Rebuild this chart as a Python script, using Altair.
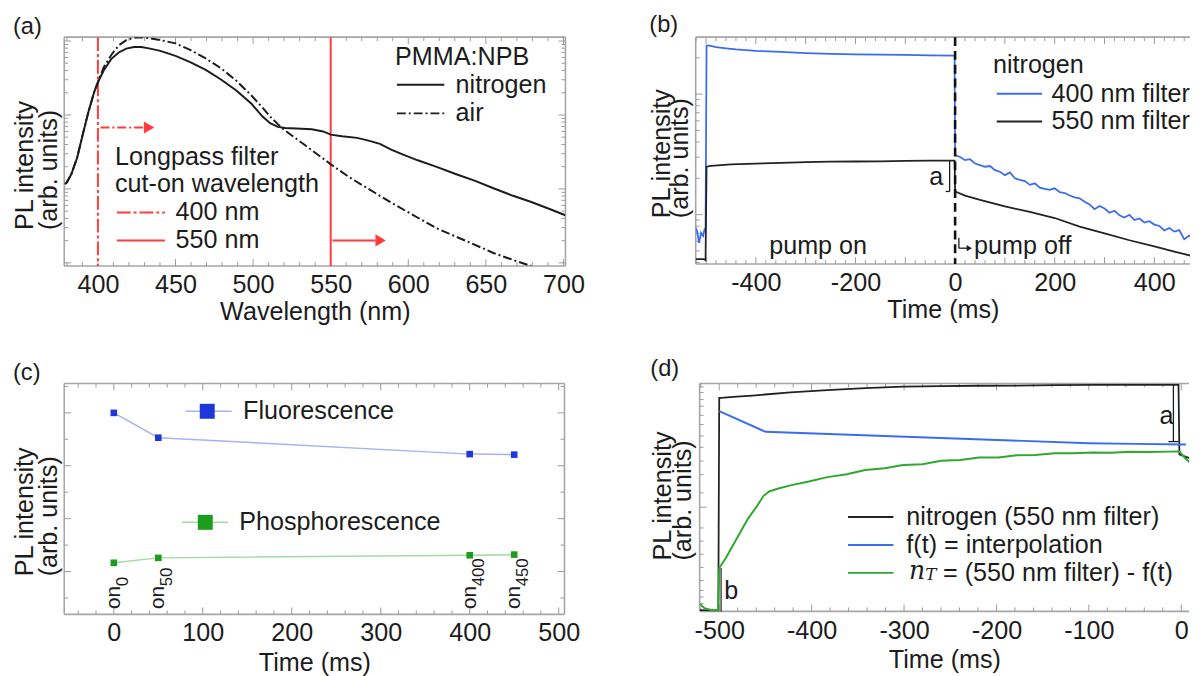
import altair as alt
import pandas as pd

FONT = "Liberation Sans"
INK = "#1c1c1c"
FRAME = "#a6a6a6"
TICKC = "#9a9a9a"
RED = "#ff3b3b"
BLUE = "#3a6cf0"
GREEN = "#2ea82e"
F_DARK, F_LIGHT = "#1f37d8", "#a9b1f3"
P_DARK, P_LIGHT = "#1e9c1e", "#a2daa2"
DASHDOT = [9, 3, 2, 3]
FS = 25.5

# ---------------- (a) PL spectra ----------------
a_wavelength = [378.8, 380.0, 382.9, 386.6, 390.2, 393.9, 397.6, 400.0, 403.7, 408.5, 413.4, 418.3, 423.2,
                428.0, 432.9, 440.2, 450.0, 459.8, 469.5, 479.3, 489.0, 498.8, 506.1, 511.0, 515.9, 520.7,
                528.0, 537.8, 545.1, 550.0, 557.3, 567.1, 574.4, 581.7, 589.0, 596.3, 606.1, 618.3, 630.5,
                642.7, 654.9, 667.1, 679.3, 691.5, 701.2]
a_nitrogen = [35.9, 36.6, 40.2, 47.3, 57.4, 67.4, 76.0, 80.3, 85.4, 90.4, 93.3, 95.0, 95.7, 95.7, 95.1, 94.0,
              91.8, 89.0, 85.7, 81.5, 76.8, 71.0, 65.3, 62.4, 60.8, 60.3, 60.1, 59.8, 58.8, 57.4, 56.7, 56.0,
              54.8, 53.4, 50.9, 48.8, 46.2, 43.3, 40.2, 37.3, 34.0, 30.8, 28.0, 24.8, 22.2]
a_air_wavelength = [378.8, 380.0, 382.9, 386.6, 390.2, 393.9, 397.6, 400.0, 403.7, 408.5, 413.4, 418.3, 423.2,
                    428.0, 432.9, 440.2, 450.0, 459.8, 469.5, 479.3, 489.0, 498.8, 506.1, 511.0, 515.9, 519.5,
                    525.6, 532.9, 550.0, 562.2, 574.4, 586.6, 601.2, 618.3, 637.8, 654.9, 669.5, 679.3]
a_air = [35.9, 36.6, 40.2, 47.3, 57.4, 67.4, 76.0, 80.3, 86.8, 92.1, 96.4, 98.7, 99.7, 99.9, 99.6, 98.7, 97.3,
         94.3, 90.7, 86.4, 81.1, 74.6, 69.2, 65.3, 62.0, 59.8, 56.7, 53.1, 44.5, 38.7, 33.7, 28.7, 23.0, 16.5,
         10.8, 5.7, 2.2, 0.0]
a_filters = [400, 550]
a_legend_title = "PMMA:NPB"
a_legend_labels = ["nitrogen", "air"]
a_filter_text = ["Longpass filter", "cut-on wavelength"]
a_filter_labels = ["400 nm", "550 nm"]
a_xmaj = [400, 450, 500, 550, 600, 650, 700]
a_xmin = [380, 390, 410, 420, 430, 440, 460, 470, 480, 490, 510, 520, 530, 540, 560, 570, 580, 590,
          610, 620, 630, 640, 660, 670, 680, 690]
a_ymaj = [1.4, 33.7, 66.0, 98.3]
a_ymin = [11.1, 16.8, 20.8, 24.0, 26.5, 28.7, 30.6, 32.2, 43.4, 49.1, 53.1, 56.3, 58.8, 61.0, 62.9, 64.5,
          75.7, 81.4, 85.4, 88.6, 91.1, 93.3, 95.2, 96.8]

# ---------------- (b) transients ----------------
b_t_400 = [-521, -518, -514, -510, -506, -503, -501, -499, -495, -480, -460, -440, -400, -350, -300, -250,
           -200, -150, -100, -50, -1, 0, 10, 20, 30, 40, 50, 60, 70, 80, 90, 100, 110, 120, 130, 140, 150,
           160, 170, 180, 190, 200, 210, 220, 230, 240, 250, 260, 270, 280, 290, 300, 310, 320, 330, 340,
           350, 360, 370, 380, 390, 400, 410, 420, 430, 440, 450, 460, 470, 477]
b_400 = [16.0, 14.5, 9.4, 13.8, 12.4, 15.3, 16.0, 96.2, 96.4, 95.6, 95.1, 94.6, 94.0, 93.5, 93.0, 92.6, 92.4,
         92.3, 92.2, 92.0, 91.9,
         48.0, 47.2, 45.8, 46.2, 44.3, 43.6, 42.9, 43.2, 41.4, 40.7,
         39.2, 40.4, 37.8, 37.1, 36.6, 34.9, 35.6, 33.7, 33.1, 32.7,
         33.4, 31.7, 31.3, 30.2, 29.4, 29.0, 27.5, 26.3, 24.2, 25.6,
         24.5, 22.6, 23.5, 21.5, 20.5, 21.7, 19.4, 20.1, 18.3, 18.9,
         17.4, 16.8, 14.8, 15.9, 14.3, 15.0, 11.0, 12.6,
         11.4]
b_t_550 = [-521, -505, -501, -499, -490, -470, -450, -400, -350, -300, -250, -200, -150, -100, -50, -1, 0,
           20, 50, 100, 150, 200, 250, 300, 350, 400, 440, 477]
b_550 = [2.2, 2.2, 1.7, 42.9, 43.3, 43.6, 43.9, 44.3, 44.6, 44.9, 45.1, 45.2, 45.3, 45.5, 45.6, 45.6, 32.0,
         30.2, 28.3, 25.4, 23.0, 20.3, 16.5, 13.5, 10.5, 7.8, 5.5, 3.5]
b_pump_off = [0]
b_legend_title = "nitrogen"
b_legend_labels = ["400 nm filter", "550 nm filter"]
b_xmaj = [-500, -400, -300, -200, -100, 0, 100, 200, 300, 400]
b_xmin = [-520, -480, -460, -440, -420, -380, -360, -340, -320, -280, -260, -240, -220, -180, -160, -140,
          -120, -80, -60, -40, -20, 20, 40, 60, 80, 120, 140, 160, 180, 220, 240, 260, 280, 320, 340, 360,
          380, 420, 440, 460]
b_ymaj = [21.8, 74.9]
b_ymin = [0.7, 5.8, 10.0, 13.6, 16.7, 19.4, 37.8, 47.1, 53.8, 58.9, 63.1, 66.7, 69.8, 72.5, 90.9]

# ---------------- (c) steady-state points ----------------
c_time = [0, 50, 400, 450]
c_fluorescence = [4.0, 3.53, 3.22, 3.21]
c_phosphorescence = [1.165, 1.258, 1.307, 1.32]
c_sub = ["0", "50", "400", "450"]
c_legend_labels = ["Fluorescence", "Phosphorescence"]
c_xmaj = [0, 100, 200, 300, 400, 500]
c_xmin = [-40, -20, 20, 40, 60, 80, 120, 140, 160, 180, 220, 240, 260, 280, 320, 340, 360, 380, 420, 440,
          460, 480]
c_ymaj = [1, 2, 3, 4]
c_ymin = [0.5, 1.5, 2.5, 3.5, 4.5]

# ---------------- (d) decomposition ----------------
d_t_black = [-521, -512, -505, -501, -500, -498, -481, -464, -423, -383, -342, -301, -260, -219, -178, -137,
             -96, -55, -14, -3, -2, 5, 12]
d_black = [0.6, 0.4, 0.3, 0.3, 93.7, 93.7, 94.2, 94.7, 96.1, 97.1, 98.0, 98.6, 98.8, 99.0, 99.1, 99.3, 99.4,
           99.4, 99.4, 99.4, 68.9, 67.8, 66.8]
d_t_interp = [-500, -450, -100, -50, 5]
d_interp = [87.9, 78.8, 73.8, 73.5, 73.2]
d_t_green = [-521, -516, -509, -503, -501, -500, -493, -481, -469, -460, -452, -446, -436, -423, -403, -383,
             -362, -342, -321, -301, -280, -260, -239, -219, -198, -178, -158, -137, -117, -96, -76, -55, -35,
             -14, -2, 4, 10, 13]
d_green = [3.2, 1.4, 0.6, 0.6, 0.6, 19.0, 23.3, 32.0, 40.6, 45.7, 50.7, 52.6, 53.9, 55.3, 57.0, 58.9, 60.2,
           62.0, 62.8, 64.2, 64.6, 66.1, 66.4, 67.5, 67.5, 68.5, 68.6, 69.4, 69.4, 69.7, 69.6, 70.0, 69.9,
           70.1, 70.2, 67.3, 65.1, 64.4]
d_legend_labels = ["nitrogen (550 nm filter)", "f(t) = interpolation"]
d_xmaj = [-500, -400, -300, -200, -100, 0]
d_xmin = [-520, -480, -460, -440, -420, -380, -360, -340, -320, -280, -260, -240, -220, -180, -160, -140,
          -120, -80, -60, -40, -20]
d_ymaj = [45.7]
d_ymin = [3.5, 6.3, 9.2, 13.5, 19.3, 25.1, 30.8, 36.6, 52.0, 60.0, 66.0, 72.0, 77.0, 82.0, 86.0, 90.0,
          93.0, 96.0, 98.5]

ONE = pd.DataFrame({"k": [0]})


def enc(xdom, ydom, xtitle, xvals, tx, ty, tlh, lpad, tpad):
    X = alt.X("x:Q", scale=alt.Scale(domain=xdom, nice=False, zero=False),
              axis=alt.Axis(title=xtitle, values=xvals, ticks=False, tickSize=0, domain=False, grid=False,
                            labelExpr="'' + datum.value",
                            labelFont=FONT, labelFontSize=FS, labelColor=INK, labelPadding=lpad,
                            labelFlush=False, labelOverlap=False,
                            titleFont=FONT, titleFontSize=FS, titleFontWeight="normal",
                            titleColor=INK, titlePadding=tpad))
    Y = alt.Y("y:Q", scale=alt.Scale(domain=ydom, nice=False, zero=False),
              axis=alt.Axis(title=["PL intensity", "(arb. units)"], labels=False, ticks=False, tickSize=0,
                            domain=False, grid=False, titleFont=FONT, titleFontSize=FS,
                            titleFontWeight="normal", titleColor=INK, titleAngle=270,
                            titleAlign="left", titleBaseline="alphabetic",
                            titleX=tx, titleY=ty, titleLineHeight=tlh))
    return X, Y


def frame(W, H, right=True):
    c = alt.Chart(ONE).mark_rule(color=FRAME, strokeWidth=1.6)
    L = [c.encode(x=alt.value(0), x2=alt.value(W), y=alt.value(0)),
         c.encode(x=alt.value(0), x2=alt.value(W), y=alt.value(H)),
         c.encode(x=alt.value(0), y=alt.value(0), y2=alt.value(H))]
    if right:
        L.append(c.encode(x=alt.value(W), y=alt.value(0), y2=alt.value(H)))
    return L


def ticks(X, Y, W, H, xmaj, xmin, ymaj, ymin, right=True):
    L = []
    for vals, ln in ((xmaj, 7), (xmin, 4)):
        c = alt.Chart(pd.DataFrame({"x": vals})).mark_rule(color=TICKC, strokeWidth=1, clip=True)
        L.append(c.encode(x=X, y=alt.value(H), y2=alt.value(H - ln)))
        L.append(c.encode(x=X, y=alt.value(0), y2=alt.value(ln)))
    for vals, ln in ((ymaj, 7), (ymin, 4)):
        c = alt.Chart(pd.DataFrame({"y": vals})).mark_rule(color=TICKC, strokeWidth=1, clip=True)
        L.append(c.encode(y=Y, x=alt.value(0), x2=alt.value(ln)))
        if right:
            L.append(c.encode(y=Y, x=alt.value(W), x2=alt.value(W - ln)))
    return L


def line(X, Y, xs, ys, color, width=2.0, dash=None):
    kw = dict(color=color, strokeWidth=width, clip=True)
    if dash:
        kw["strokeDash"] = dash
    d = pd.DataFrame({"x": xs, "y": ys, "i": list(range(len(xs)))})
    return alt.Chart(d).mark_line(**kw).encode(x=X, y=Y, order="i:Q")


def seg(X, Y, x1, x2, y1, y2, color, width=2.0, dash=None):
    kw = dict(color=color, strokeWidth=width)
    if dash:
        kw["strokeDash"] = dash
    d = pd.DataFrame({"x": x1, "x2": x2, "y": y1, "y2": y2})
    return alt.Chart(d).mark_rule(**kw).encode(x=X, x2="x2:Q", y=Y, y2="y2:Q")


def vline(X, xs, H, color, width=2.0, dash=None):
    kw = dict(color=color, strokeWidth=width)
    if dash:
        kw["strokeDash"] = dash
    return alt.Chart(pd.DataFrame({"x": xs})).mark_rule(**kw).encode(x=X, y=alt.value(0), y2=alt.value(H))


def text(X, Y, xs, ys, labels, size=FS, align="left", color=INK, font=FONT, **kw):
    d = pd.DataFrame({"x": xs, "y": ys, "t": labels})
    return alt.Chart(d).mark_text(font=font, fontSize=size, align=align, baseline="middle",
                                  color=color, **kw).encode(x=X, y=Y, text="t:N")


def pts(X, Y, xs, ys, color, size, shape="square"):
    d = pd.DataFrame({"x": xs, "y": ys})
    return alt.Chart(d).mark_point(shape=shape, filled=True, size=size, color=color,
                                   opacity=1).encode(x=X, y=Y)


def ptitle(t, off):
    return alt.TitleParams(t, anchor="start", font=FONT, fontSize=24, fontWeight="normal", color=INK,
                           offset=off)


# ---------- panel (a) ----------
WA, HA = 508, 232
XA, YA = enc([378.3, 701.3], [0, 100], "Wavelength (nm)", a_xmaj, -32, 195, 24, 7, 2)
A_layers = frame(WA, HA) + ticks(XA, YA, WA, HA, a_xmaj, a_xmin, a_ymaj, a_ymin) + [
    vline(XA, [a_filters[0]], HA, RED, 2, [14, 3, 3, 3]),
    vline(XA, [a_filters[1]], HA, RED, 2),
    line(XA, YA, a_wavelength, a_nitrogen, INK, 2.0),
    line(XA, YA, a_air_wavelength, a_air, INK, 2.0, DASHDOT),
    seg(XA, YA, [401.7], [430.0], [60.5], [60.5], RED, 2, [9, 3, 2, 3]),
    seg(XA, YA, [551.2], [579.0], [11.2], [11.2], RED, 2),
    pts(XA, YA, [433.0, 582.2], [60.5, 11.2], RED, 150, "triangle-right"),
    text(XA, YA, [591.5], [91.1], [a_legend_title]),
    text(XA, YA, [630.5, 630.5], [79.2, 66.7], a_legend_labels),
    seg(XA, YA, [592.7], [623.2], [79.2], [79.2], INK, 2),
    seg(XA, YA, [592.7], [623.2], [66.7], [66.7], INK, 2, DASHDOT),
    text(XA, YA, [411.0, 411.0], [47.6, 35.6], a_filter_text),
    text(XA, YA, [450.0, 450.0], [23.4, 11.2], a_filter_labels),
    seg(XA, YA, [412.2], [443.2], [23.4], [23.4], RED, 2, [14, 3, 3, 3]),
    seg(XA, YA, [412.2], [443.2], [11.2], [11.2], RED, 2),
]
A = alt.layer(*A_layers).properties(width=WA, height=HA, title=ptitle("(a)", -3))

# ---------- panel (b) ----------
WB, HB = 501, 230
XB, YB = enc([-520.8, 471.6], [0, 100], "Time (ms)", [-400, -200, 0, 200, 400], -27, 183, 19, 7, 2)
B_layers = frame(WB, HB, right=False) + ticks(XB, YB, WB, HB, b_xmaj, b_xmin, b_ymaj, b_ymin, right=False) + [
    line(XB, YB, b_t_400, b_400, BLUE, 1.8),
    line(XB, YB, b_t_550, b_550, "#222222", 1.8),
    vline(XB, b_pump_off, HB, "#111111", 2.6, [9, 5]),
    seg(XB, YB, [-11], [-11], [45.6], [32.0], INK, 1.3),
    seg(XB, YB, [-19], [-11], [32.0], [32.0], INK, 1.3),
    text(XB, YB, [-24], [38.5], ["a"], align="right"),
    text(XB, YB, [-275], [8.0], ["pump on"], align="center"),
    text(XB, YB, [38], [8.0], ["pump off"]),
    seg(XB, YB, [7.6], [7.6], [11.6], [7.0], INK, 1.3),
    seg(XB, YB, [7.6], [26.0], [7.0], [7.0], INK, 1.3),
    pts(XB, YB, [28.5], [7.0], INK, 40, "triangle-right"),
    text(XB, YB, [76], [87.9], [b_legend_title]),
    seg(XB, YB, [83.5], [174.6], [75.1], [75.1], BLUE, 2),
    seg(XB, YB, [83.5], [174.6], [62.8], [62.8], "#222222", 2),
    text(XB, YB, [193.5, 193.5], [75.1, 62.8], b_legend_labels),
]
B = alt.layer(*B_layers).properties(width=WB, height=HB, title=ptitle("(b)", -1))

# ---------- panel (c) ----------
WC, HC = 507, 234
XC, YC = enc([-55.7, 506.5], [0.19, 4.556], "Time (ms)", c_xmaj, -32, 195, 24, 7, 4)
C_layers = frame(WC, HC) + ticks(XC, YC, WC, HC, c_xmaj, c_xmin, c_ymaj, c_ymin) + [
    line(XC, YC, c_time, c_fluorescence, F_LIGHT, 1.5),
    line(XC, YC, c_time, c_phosphorescence, P_LIGHT, 1.5),
    pts(XC, YC, c_time, c_fluorescence, F_DARK, 45),
    pts(XC, YC, c_time, c_phosphorescence, P_DARK, 45),
    text(XC, YC, c_time, [0.29] * 4, ["on"] * 4, size=21, angle=270),
    text(XC, YC, c_time, [0.29] * 4, c_sub, size=17, angle=270, dx=23, dy=9),
    seg(XC, YC, [80.7], [132.5], [4.03], [4.03], F_LIGHT, 1.5),
    pts(XC, YC, [105.0], [4.03], F_DARK, 230),
    text(XC, YC, [145.3], [4.03], [c_legend_labels[0]]),
    seg(XC, YC, [76.5], [128.3], [1.93], [1.93], P_LIGHT, 1.5),
    pts(XC, YC, [102.8], [1.93], P_DARK, 230),
    text(XC, YC, [141.0], [1.93], [c_legend_labels[1]]),
]
C = alt.layer(*C_layers).properties(width=WC, height=HC, title=ptitle("(c)", -2))

# ---------- panel (d) ----------
WD, HD = 496, 231
XD, YD = enc([-521.2, 8.4], [0, 100], "Time (ms)", d_xmaj, -30, 179, 21, 7, 4)
D_layers = frame(WD, HD, right=False) + ticks(XD, YD, WD, HD, d_xmaj, d_xmin, d_ymaj, d_ymin, right=False) + [
    line(XD, YD, d_t_black, d_black, "#222222", 1.8),
    line(XD, YD, d_t_interp, d_interp, BLUE, 2.0),
    line(XD, YD, d_t_green, d_green, GREEN, 2.0),
    seg(XD, YD, [-498], [-498], [19.0], [0.0], INK, 1.2),
    text(XD, YD, [-487], [8.9], ["b"], align="center"),
    seg(XD, YD, [-8.5], [-8.5], [99.4], [74.5], INK, 1.3),
    seg(XD, YD, [-14], [-3], [74.5], [74.5], INK, 1.3),
    text(XD, YD, [-16], [85.7], ["a"], align="center"),
    seg(XD, YD, [-360.6], [-311.5], [41.4], [41.4], "#222222", 2),
    seg(XD, YD, [-360.6], [-311.5], [29.1], [29.1], BLUE, 2),
    seg(XD, YD, [-360.6], [-311.5], [16.9], [16.9], GREEN, 2),
    text(XD, YD, [-297.5, -297.5], [41.4, 29.1], d_legend_labels),
    text(XD, YD, [-294.6], [17.6], ["n"], font="DejaVu Serif", fontStyle="italic"),
    text(XD, YD, [-277.0], [15.8], ["T"], size=17, font="DejaVu Serif", fontStyle="italic"),
    text(XD, YD, [-257.8], [16.9], ["= (550 nm filter) - f(t)"]),
]
D = alt.layer(*D_layers).properties(width=WD, height=HD, title=ptitle("(d)", 2))

top = alt.hconcat(A, B, spacing=64)
bottom = alt.hconcat(C, D, spacing=70)
chart = (alt.vconcat(top, bottom, spacing=32)
         .properties(padding={"left": 4, "top": 0, "right": 0, "bottom": 0})
         .configure(font=FONT)
         .configure_view(strokeWidth=0))

chart.save("out.html", embed_options={"renderer": "svg", "actions": False})
